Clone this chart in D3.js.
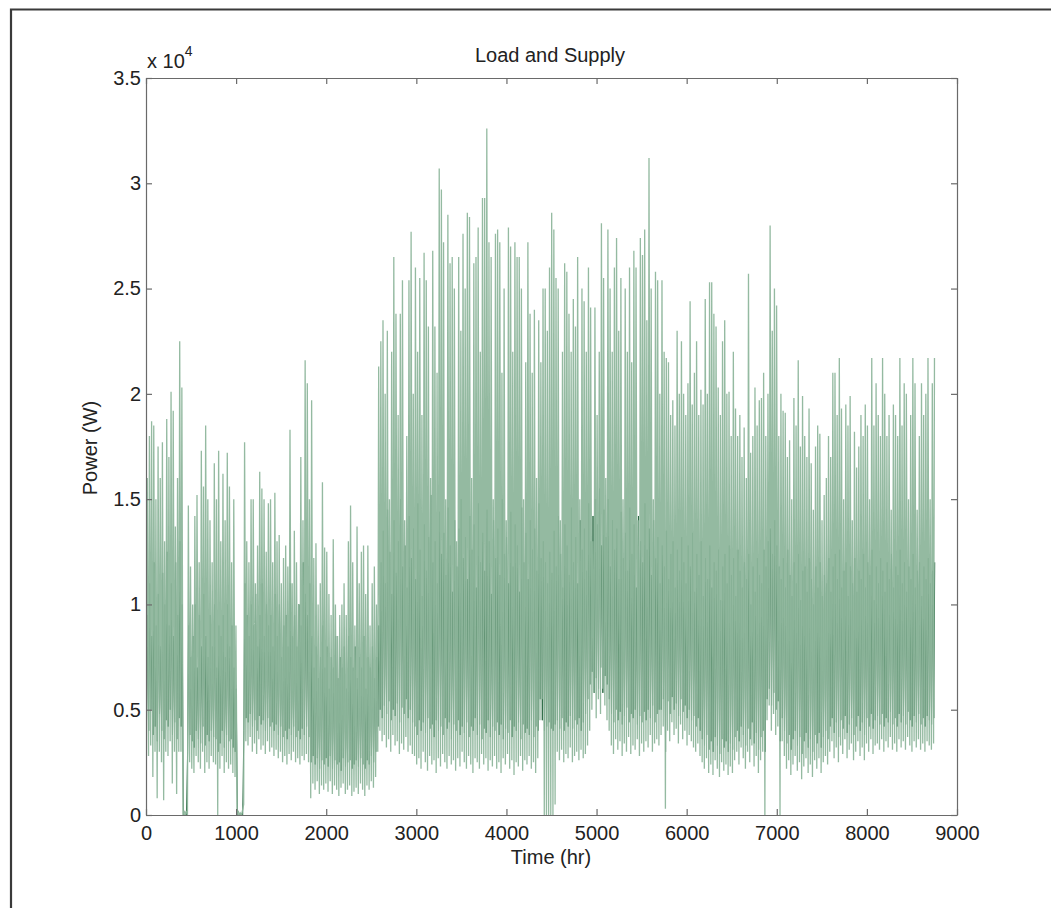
<!DOCTYPE html>
<html><head><meta charset="utf-8">
<script src="https://cdn.jsdelivr.net/npm/d3@7"></script>
<style>body{margin:0;background:#fff}svg{display:block}text{font-family:"Liberation Sans",Arial,Helvetica,sans-serif}</style>
</head><body><svg id="c" width="1051" height="908"></svg>
<script>
// Daily supply peaks / troughs, in hundreds of W (day 0..364)
const supplyPeak = [160,180,187,185,150,175,160,177,130,188,170,201,192,137,160,225,203,
2,2,
147,118,100,142,152,120,173,156,185,150,140,120,167,150,173,130,162,140,172,156,120,150,90,
2,1,2,
177,130,120,150,150,110,128,163,155,150,125,148,150,120,153,130,133,110,122,128,118,183,110,135,120,100,170,140,216,205,150,197,122,129,100,110,158,127,125,105,95,131,100,85,95,100,110,95,130,147,120,90,137,110,125,128,105,128,90,110,118,100,213,
225,235,200,230,150,220,265,238,190,238,254,140,180,254,277,200,260,220,
255,190,267,254,232,160,268,232,210,307,297,272,150,285,262,265,250,130,265,230,276,250,286,284,160,262,265,279,220,293,293,326,272,265,150,276,278,272,210,250,140,279,270,220,272,265,265,250,150,215,272,
238,210,240,160,235,215,250,250,230,260,286,278,255,250,140,220,262,258,238,220,245,232,265,150,250,244,220,260,241,130,241,190,220,281,255,160,278,250,220,260,274,230,255,150,250,220,260,215,268,260,140,274,266,278,235,312,250,150,258,254,200,254,220,217,
215,190,197,185,230,200,225,200,190,205,244,195,210,225,190,202,195,245,200,253,253,238,232,203,190,225,235,200,201,180,220,193,180,190,170,184,160,257,172,180,203,185,197,198,210,180,200,280,230,250,242,180,200,192,191,170,178,150,198,185,216,175,199,180,170,193,167,145,175,185,181,140,152,160,180,170,210,210,190,217,193,150,195,185,199,140,182,165,175,190,180,195,185,150,217,185,205,190,180,217,200,180,190,145,195,190,180,217,185,205,200,150,190,217,205,145,180,205,190,200,217,150,205,217];
const supplyTrough = [30,28,33,18,30,8,30,25,7,30,28,35,15,30,10,30,30,
0,0,
0,25,22,20,28,25,22,30,20,25,22,28,25,24,0,22,28,20,25,22,24,20,18,
0,0,0,
5,35,33,37,30,34,29,36,31,33,29,35,30,32,28,31,
27,30,25,28,24,29,26,30,25,27,24,28,26,29,25,
8,15,12,16,10,14,12,15,11,16,10,14,12,9,13,15,10,12,14,9,11,13,10,15,12,9,14,12,16,13,18,30,
40,35,38,32,36,30,38,33,35,29,34,31,37,30,33,29,
28,24,27,22,30,25,21,28,24,26,20,27,23,29,25,22,28,24,26,21,27,23,30,25,22,28,24,20,27,25,22,29,24,27,21,26,23,28,22,25,20,27,24,29,22,26,19,25,23,28,21,26,24,28,22,25,20,27,45,55,
0,0,0,0,0,5,
30,26,31,25,29,27,32,25,28,30,26,31,27,29,33,40,
50,58,46,55,48,60,52,45,40,
33,29,36,31,35,28,34,30,37,29,33,31,36,28,34,30,35,32,38,30,34,36,33,
38,42,3,40,35,44,38,41,34,43,36,40,33,38,35,32,30,34,28,
25,22,27,20,24,19,26,22,18,25,21,24,19,23,20,26,
30,24,32,27,22,30,25,33,23,28,20,26,30,
0,
45,52,40,48,38,42,
0,
35,
28,22,26,19,24,28,21,25,17,23,27,20,24,18,26,22,27,20,25,28,24,
30,35,27,32,25,33,29,36,27,31,34,26,30,35,28,32,26,34,30,36,29,33,
34,31,36,30,35,32,37,31,34,30,36,32,35,31,37,33,30,35,32,36,31,34,30,35,33,31,34];
// Daily load peaks / troughs, in hundreds of W
const loadPeak = [95,110,85,120,90,105,80,115,100,125,90,110,85,120,95,130,100,
0,0,
90,75,85,100,70,95,80,105,85,75,95,80,100,70,90,85,95,75,100,80,90,70,60,
0,0,0,
110,95,85,100,90,105,80,95,110,85,100,90,95,80,105,85,100,75,90,95,80,110,85,95,80,100,90,120,105,95,110,
85,70,80,65,75,90,70,80,60,75,70,85,65,75,70,80,60,85,75,70,80,65,75,70,85,60,75,70,80,65,75,90,
120,135,110,145,125,105,140,115,130,150,118,128,108,142,122,136,112,148,126,104,
138,116,132,152,120,130,110,144,124,134,114,146,128,106,140,118,136,150,122,132,
112,142,126,138,108,148,120,134,116,145,130,105,140,122,136,114,150,124,132,110,
144,118,138,128,106,146,120,134,112,140,126,136,116,148,122,130,120,110,125,115,
135,118,142,124,108,138,128,114,146,120,132,110,140,126,136,116,148,130,142,150,
138,155,128,145,132,150,118,140,126,136,112,144,122,134,116,146,124,138,108,142,
130,120,148,126,136,114,140,122,132,110,128,118,135,112,124,130,108,126,116,132,
120,110,128,118,134,106,124,114,130,104,122,112,128,108,120,116,126,102,118,124,
110,128,114,122,104,126,116,108,120,112,124,100,118,106,122,114,110,126,118,130,
136,124,140,128,118,112,122,108,126,114,104,120,110,124,102,116,118,106,122,112,
100,118,108,120,104,114,110,122,106,118,124,112,126,108,116,120,104,118,110,122,
106,116,112,124,108,120,114,126,102,118,110,122,116,106,120,112,124,108,118,114,
126,110,120,106,118,112,124,108,116,120,104,118,112,122,110,116,120];
const loadTrough = [45,40,50,38,42,35,48,40,36,45,42,50,38,44,36,46,42,
0,0,
30,38,35,32,40,36,34,42,33,38,35,40,37,36,30,34,40,32,38,35,36,32,30,
0,0,0,
40,46,44,48,42,45,40,47,43,45,40,46,42,44,40,43,38,42,37,40,36,41,38,42,37,40,36,41,38,42,37,
25,28,24,27,22,26,24,27,23,28,22,26,24,25,21,27,23,25,26,22,24,26,23,27,24,22,26,24,28,25,30,42,
50,46,52,48,54,45,50,47,53,44,51,48,55,46,50,44,42,38,45,40,
44,39,46,41,43,37,45,40,42,38,46,41,44,36,43,40,45,38,42,39,
44,37,42,40,46,38,43,36,41,39,45,37,42,40,44,38,43,36,41,39,
45,37,42,40,44,36,43,39,41,38,45,37,42,40,55,45,40,42,44,41,
40,43,45,41,46,40,44,42,47,41,45,43,46,40,44,48,55,62,68,58,
65,60,70,58,66,62,55,48,44,50,45,49,43,47,51,44,48,46,50,43,
47,44,49,45,50,46,52,44,48,50,50,55,30,54,48,56,50,53,47,55,
49,52,46,50,45,47,42,46,40,36,33,38,31,35,30,37,33,29,36,32,
35,30,34,31,37,40,35,42,38,33,41,36,44,34,39,31,37,40,30,55,
60,52,58,50,54,35,46,40,34,38,31,36,40,33,37,29,35,39,32,36,
30,38,34,39,32,37,40,36,42,46,39,44,37,45,41,47,39,43,46,38,
42,47,40,44,38,46,42,48,41,45,47,43,48,42,46,44,49,43,46,42,
48,44,47,43,49,45,42,47,44,48,43,46,42,47,45,43,46];
const UNIT = 100;
const xTicks = [0,1000,2000,3000,4000,5000,6000,7000,8000,9000];
const yTicks = [0,5000,10000,15000,20000,25000,30000,35000];
const yTickLabels = ["0","0.5","1","1.5","2","2.5","3","3.5"];
const titleText = "Load and Supply", xLabel = "Time (hr)", yLabel = "Power (W)";

const svg = d3.select("#c");
const L=146, R=957, T=78, B=815;
const x = d3.scaleLinear().domain([0,9000]).range([L,R]);
const y = d3.scaleLinear().domain([0,35000]).range([B,T]);

// outer frame
svg.append("path").attr("d","M11,908V9.5H1051").attr("fill","none").attr("stroke","#3a3a3a").attr("stroke-width",2.2);

svg.append("clipPath").attr("id","clip").append("rect").attr("x",L).attr("y",T).attr("width",R-L).attr("height",B-T);

function series(peaks, troughs, tOff, pOff){
  const n = Math.min(peaks.length, troughs.length), pts=[];
  for(let d=0; d<n; d++){
    pts.push([d*24+tOff, troughs[d]*UNIT]);
    pts.push([d*24+pOff, peaks[d]*UNIT]);
  }
  return pts;
}
const line = d3.line().x(d=>x(d[0])).y(d=>y(d[1]));
const g = svg.append("g").attr("clip-path","url(#clip)");
g.append("path").attr("d", line(series(loadPeak, loadTrough, 6, 17)))
  .attr("fill","none").attr("stroke","#2b6a44").attr("stroke-width",1.0);
g.append("path").attr("d", line(series(supplyPeak, supplyTrough, 4, 14)))
  .attr("fill","none").attr("stroke","#8db69b").attr("stroke-width",1.3).attr("stroke-opacity",0.94);

// axes
const axCol="#6a6a6a";
function style(sel){
  sel.select(".domain").attr("stroke",axCol).attr("stroke-width",1.2);
  sel.selectAll(".tick line").attr("stroke",axCol).attr("stroke-width",1.2);
  sel.selectAll("text").attr("font-size",20).attr("fill","#222").attr("font-family",'"Liberation Sans",Arial,sans-serif');
}
svg.append("g").attr("transform",`translate(0,${B})`)
  .call(d3.axisBottom(x).tickValues(xTicks).tickSizeInner(-6).tickSizeOuter(0).tickPadding(11).tickFormat(d3.format("d"))).call(style);
svg.append("g").attr("transform",`translate(0,${T})`)
  .call(d3.axisTop(x).tickValues(xTicks).tickSizeInner(-6).tickSizeOuter(0).tickFormat("")).call(style);
svg.append("g").attr("transform",`translate(${L},0)`)
  .call(d3.axisLeft(y).tickValues(yTicks).tickSizeInner(-6).tickSizeOuter(0).tickPadding(5)
    .tickFormat((d,i)=>yTickLabels[i])).call(style);
svg.append("g").attr("transform",`translate(${R},0)`)
  .call(d3.axisRight(y).tickValues(yTicks).tickSizeInner(-6).tickSizeOuter(0).tickFormat("")).call(style);

// texts
svg.append("text").attr("x",550).attr("y",62).attr("text-anchor","middle").attr("font-size",20).attr("fill","#222").text(titleText);
svg.append("text").attr("x",551).attr("y",864).attr("text-anchor","middle").attr("font-size",20).attr("fill","#222").text(xLabel);
svg.append("text").attr("transform","translate(97,448) rotate(-90)").attr("text-anchor","middle").attr("font-size",20).attr("fill","#222").text(yLabel);
const ex = svg.append("text").attr("x",147).attr("y",68).attr("font-size",20).attr("fill","#222");
ex.append("tspan").text("x 10");
ex.append("tspan").attr("dy",-12).attr("font-size",14).text("4");
</script></body></html>
